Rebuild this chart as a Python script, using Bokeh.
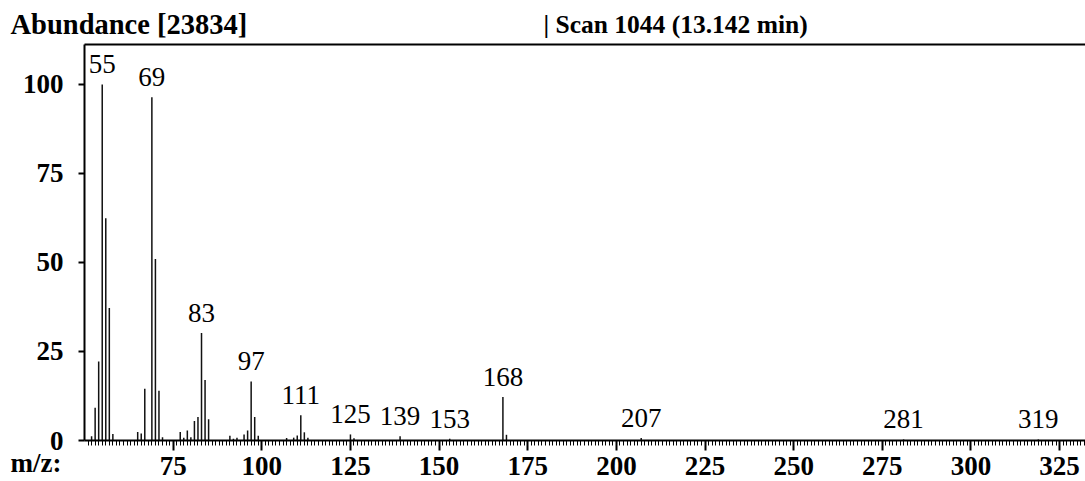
from bokeh.plotting import figure
from bokeh.models import FixedTicker, LinearAxis, Label, Range1d, ColumnDataSource
from bokeh.core.properties import value
from bokeh.embed import file_html
from bokeh.resources import INLINE

# Mass spectrum, scan 1044
mz = [52, 53, 54, 55, 56, 57, 58,
      65, 66, 67, 69, 70, 71, 72,
      77, 78, 79, 80, 81, 82, 83, 84, 85,
      91, 92, 93, 95, 96, 97, 98, 99,
      107, 109, 110, 111, 112, 113,
      125, 126, 139, 153, 168, 169, 207, 281, 319]
abundance = [1.2, 9.2, 22.2, 100.0, 62.4, 37.2, 1.8,
             2.4, 2.0, 14.5, 96.4, 51.0, 14.0, 0.9,
             2.4, 0.8, 2.8, 0.9, 5.5, 6.6, 30.2, 17.0, 6.0,
             1.3, 0.5, 0.8, 1.7, 2.8, 16.6, 6.6, 1.3,
             0.7, 0.8, 1.4, 7.1, 2.3, 0.8,
             1.7, 0.6, 1.2, 0.5, 12.2, 1.6, 0.7, 0.3, 0.3]
label_mz = [55, 69, 83, 97, 111, 125, 139, 153, 168, 207, 281, 319]
x_ticks = [75, 100, 125, 150, 175, 200, 225, 250, 275, 300, 325]
y_ticks = [0, 25, 50, 75, 100]
total_abundance = 23834
scan_no = 1044
scan_time = 13.142

SERIF = "Liberation Serif"
FS = "27px"

# canvas and where the data box sits on it (pixels)
W, H = 1085, 481
BOX_L, BOX_T, BOX_B = 84, 44, 440
MZ_MIN, MZ_MAX = 50.0, 332.3     # m/z at the box's left and right edges
AB_MIN, AB_MAX = 0.0, 111.2      # abundance at the box's bottom and top edges

# the plot frame covers the whole canvas; axes are pinned to the box edges
sx = (W - BOX_L) / (MZ_MAX - MZ_MIN)
sy = (BOX_B - BOX_T) / (AB_MAX - AB_MIN)
x_range = Range1d(MZ_MIN - BOX_L / sx, MZ_MAX)
y_range = Range1d(AB_MIN - (H - BOX_B) / sy, AB_MAX + BOX_T / sy)

p = figure(width=W, height=H, x_range=x_range, y_range=y_range,
           x_axis_type=None, y_axis_type=None,
           output_backend="svg", toolbar_location=None,
           min_border=0)
p.outline_line_color = None
p.grid.visible = False
p.background_fill_color = "white"
p.border_fill_color = "white"

# stick spectrum
src = ColumnDataSource(dict(mz=mz, ab=abundance, zero=[0] * len(mz)))
p.segment(x0="mz", y0="zero", x1="mz", y1="ab", source=src,
          line_color="#111111", line_width=1.5)

# peak labels
lab_vals = [abundance[mz.index(m)] for m in label_mz]
p.text(x=label_mz, y=lab_vals, text=[str(m) for m in label_mz],
       text_align="center", text_baseline="alphabetic", y_offset=-20,
       text_font=value(SERIF), text_font_size=FS, text_color="black")

# x axis
xa = LinearAxis(fixed_location=AB_MIN, bounds=(MZ_MIN, MZ_MAX),
                ticker=FixedTicker(ticks=x_ticks, minor_ticks=list(range(51, 333))))
xa.axis_line_width = 2
xa.major_tick_out = 10
xa.major_tick_in = 0
xa.major_tick_line_width = 2
xa.minor_tick_out = 5
xa.minor_tick_in = 0
xa.minor_tick_line_width = 1
xa.major_label_standoff = 6
xa.major_label_text_font = SERIF
xa.major_label_text_font_style = "bold"
xa.major_label_text_font_size = FS
xa.major_label_text_color = "black"
p.add_layout(xa, "below")

# y axis
ya = LinearAxis(fixed_location=MZ_MIN, bounds=(AB_MIN, AB_MAX),
                ticker=FixedTicker(ticks=y_ticks))
ya.axis_line_width = 2
ya.major_tick_out = 6
ya.major_tick_in = 0
ya.major_tick_line_width = 2
ya.minor_tick_line_color = None
ya.major_label_standoff = 15
ya.major_label_text_font = SERIF
ya.major_label_text_font_style = "bold"
ya.major_label_text_font_size = FS
ya.major_label_text_color = "black"
p.add_layout(ya, "left")

# top rule
top = LinearAxis(fixed_location=AB_MAX, bounds=(MZ_MIN, MZ_MAX),
                 ticker=FixedTicker(ticks=[]), axis_line_width=2,
                 major_tick_line_color=None, minor_tick_line_color=None,
                 major_label_text_font_size="0px")
p.add_layout(top, "above")

# header and axis caption, placed in canvas pixels
for txt, px, py, size in [
    (f"Abundance [{total_abundance}]", 10, 24, "28.5px"),
    (f"| Scan {scan_no} ({scan_time:.3f} min)", 543, 24, "25.5px"),
    ("m/z:", 10, 462, FS),
]:
    p.add_layout(Label(x=px, y=py, x_units="canvas", y_units="canvas", text=txt,
                       text_font=SERIF, text_font_style="bold", text_font_size=size,
                       text_color="black", text_baseline="alphabetic",
                       text_align="left"))

open("out.html", "w").write(file_html(p, INLINE))
